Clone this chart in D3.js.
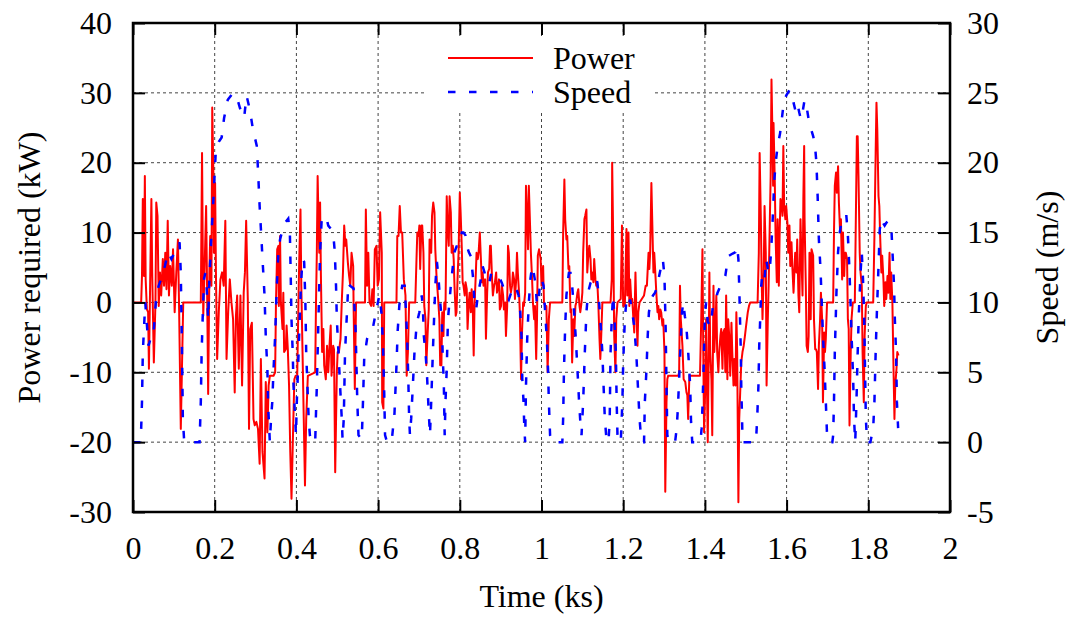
<!DOCTYPE html>
<html>
<head>
<meta charset="utf-8">
<script src="https://cdn.jsdelivr.net/npm/d3@7"></script>
<style>
  body { margin: 0; background: #fff; }
  svg text { font-family: "Liberation Serif", Tinos, "Times New Roman", Times, "DejaVu Serif", serif; fill: #000; }
</style>
</head>
<body>
<svg id="chart" width="1071" height="617"></svg>
<script>
// tick values
const timeTicks = [0, 0.2, 0.4, 0.6, 0.8, 1, 1.2, 1.4, 1.6, 1.8, 2];
const powerTicks = [-30, -20, -10, 0, 10, 20, 30, 40];
const speedTicks = [-5, 0, 5, 10, 15, 20, 25, 30];

// power required: [time (s), kW]
const power = [[0,0],[20,0],[22,3.8],[24,14.8],[27,3.8],[29,18.1],[31,3.3],[34,-1.0],[37,-1.4],[39,-9.5],[42,2.9],[45,14.8],[47,4.3],[51,-8.6],[55,0],[57,14.3],[60,12.4],[63,-0.5],[66,4.3],[69,1.0],[73,6.2],[76,2.4],[79,7.1],[82,1.9],[85,11.7],[88,1.0],[91,5.2],[95,2.4],[98,7.6],[102,-1.4],[106,4.3],[110,9.0],[113,-1.4],[117,-18.1],[120,-9.0],[123,0],[166,0],[169,21.4],[172,-1.9],[175,4.3],[179,13.8],[182,-1.4],[184,-13.1],[187,4.3],[189,9.5],[192,2.4],[194,27.9],[197,17.6],[198,7.1],[201,17.1],[203,4.3],[206,-8.1],[210,-1.4],[214,3.3],[218,4.3],[222,2.4],[226,11.7],[229,-8.1],[233,-1.4],[237,3.3],[241,0],[245,-2.4],[249,-12.9],[252,-1.9],[255,1.0],[259,-9.5],[263,1.0],[267,-11.9],[271,1.4],[274,4.3],[277,11.7],[281,0.5],[284,-18.1],[287,-3.8],[291,-2.9],[295,-16.7],[298,-17.6],[302,-17.1],[306,-18.1],[310,-23.1],[313,-8.1],[317,-21.4],[322,-25.2],[325,-11.4],[329,-18.6],[332,-11.9],[335,-10.5],[344,-10.5],[348,-10.0],[350,0],[353,7.6],[356,8.1],[357,-0.5],[360,9.5],[362,0],[366,-3.8],[368,1.4],[370,-7.1],[374,-6.7],[376,-3.3],[379,-6.7],[382,-11.9],[385,-21.4],[388,-28.1],[392,-18.1],[395,-11.0],[398,-10.5],[402,-10.5],[405,0],[407,6.2],[410,13.3],[412,2.4],[415,-7.1],[418,-16.7],[421,-26.2],[424,-16.7],[428,-10.5],[446,-10.0],[448,0],[450,7.1],[452,18.1],[454,11.9],[456,7.1],[458,14.3],[460,3.8],[463,-7.1],[466,-3.8],[468,-9.0],[472,-11.0],[475,-6.2],[478,-10.0],[481,-6.2],[484,-3.3],[486,-10.5],[490,-6.2],[492,-6.7],[495,-24.3],[499,-10.0],[501,-7.1],[504,-7.1],[508,-5.2],[511,0],[514,4.3],[517,11.0],[520,8.1],[522,9.0],[526,5.7],[529,3.8],[532,2.4],[535,7.1],[539,5.2],[540,-0.5],[543,-12.4],[546,0],[568,0],[570,13.3],[573,2.4],[576,7.1],[579,0],[583,-0.5],[586,1.9],[589,-0.5],[592,7.6],[596,8.1],[599,2.4],[602,3.3],[605,12.9],[609,7.1],[610,-14.3],[613,-15.2],[615,0],[645,0],[647,9.5],[650,9.5],[653,13.8],[656,10.0],[659,10.0],[663,3.3],[667,1.0],[670,-10.5],[673,-7.1],[676,0],[691,0],[694,6.2],[696,10.0],[699,9.5],[701,11.0],[703,4.8],[706,11.0],[708,11.0],[711,7.1],[713,-0.5],[716,-2.4],[718,-9.0],[721,-4.8],[724,-1.0],[726,9.0],[730,7.1],[732,12.4],[735,14.3],[738,12.9],[740,7.6],[743,3.8],[747,0.5],[750,-2.4],[752,-9.0],[755,-9.0],[757,-1.4],[760,-4.8],[762,0],[765,-1.0],[768,15.2],[770,11.0],[773,8.1],[775,15.2],[778,12.9],[780,7.1],[783,8.1],[785,6.2],[787,2.4],[790,-1.9],[792,-1.4],[795,4.3],[797,7.1],[800,15.7],[802,12.9],[805,7.6],[807,2.9],[809,2.4],[812,1.0],[814,2.9],[817,1.9],[819,-3.8],[822,0],[824,1.4],[827,-1.4],[829,1.9],[832,-1.4],[834,-7.6],[836,-0.5],[839,3.8],[841,7.1],[844,6.2],[846,7.1],[849,10.0],[851,7.1],[854,2.9],[856,4.3],[858,2.4],[862,3.3],[864,-5.2],[867,1.4],[869,4.3],[872,4.8],[874,8.1],[876,8.1],[879,3.3],[881,1.0],[884,2.4],[886,2.9],[889,4.3],[891,1.4],[894,2.4],[896,3.3],[898,-1.0],[901,-0.5],[903,2.4],[906,1.0],[908,-1.0],[911,0],[913,-4.8],[916,-0.5],[918,8.1],[920,7.1],[923,2.4],[925,1.4],[928,2.4],[930,4.3],[933,3.3],[935,0.5],[938,3.3],[940,7.1],[942,4.3],[945,1.4],[947,-1.4],[950,-11.0],[952,-4.8],[955,0],[957,-0.5],[960,1.4],[962,16.7],[965,11.9],[967,7.6],[969,16.7],[972,11.0],[974,7.1],[977,3.3],[979,0],[982,-2.4],[984,-0.5],[987,-8.1],[989,-2.4],[991,6.7],[994,7.6],[998,6.2],[1000,2.4],[1004,5.2],[1006,0],[1009,-0.5],[1012,-0.5],[1015,-10.0],[1018,-2.4],[1021,0],[1051,0],[1053,10.0],[1056,17.6],[1058,11.9],[1061,9.0],[1063,9.5],[1066,4.8],[1068,5.2],[1071,-1.4],[1073,-1.0],[1075,-8.6],[1078,-2.4],[1080,-4.8],[1083,-0.5],[1085,0],[1088,1.4],[1090,1.9],[1093,-0.5],[1095,-1.4],[1098,0],[1100,1.4],[1102,7.1],[1105,11.9],[1107,12.4],[1110,13.3],[1112,4.3],[1115,7.1],[1117,8.1],[1120,6.2],[1122,3.3],[1124,4.3],[1127,2.9],[1129,6.2],[1132,3.3],[1134,2.4],[1137,2.4],[1139,0],[1142,-5.2],[1144,-8.1],[1146,-5.2],[1149,0],[1169,0],[1172,3.3],[1173,20.0],[1176,7.1],[1178,-4.8],[1181,-10.0],[1183,-2.4],[1186,0],[1194,0.5],[1197,11.0],[1200,-0.5],[1202,0.5],[1204,-0.5],[1208,10.5],[1210,1.0],[1213,10.0],[1215,-0.5],[1217,3.3],[1220,0],[1222,0.5],[1225,-2.4],[1227,-4.3],[1230,4.3],[1232,-0.5],[1235,-6.2],[1237,-1.4],[1240,0],[1251,1.0],[1255,2.4],[1258,2.4],[1262,7.1],[1264,4.8],[1266,7.1],[1269,17.1],[1271,11.9],[1274,4.3],[1276,7.1],[1279,3.8],[1281,1.4],[1284,-1.4],[1286,-0.5],[1288,-2.4],[1291,-1.0],[1293,-1.4],[1296,-3.3],[1298,-2.4],[1301,-7.1],[1303,-27.1],[1306,-14.3],[1308,-11.0],[1310,-10.5],[1335,-10.5],[1337,-10.0],[1339,2.4],[1341,-2.4],[1345,-6.2],[1348,-11.0],[1352,-11.4],[1355,-12.9],[1357,-13.3],[1359,-16.7],[1362,-10.5],[1388,-10.5],[1391,-2.4],[1394,7.6],[1396,-7.1],[1398,-18.6],[1401,-11.9],[1403,-2.4],[1405,-11.9],[1407,-20.0],[1409,-9.5],[1411,4.3],[1413,-7.1],[1416,-11.0],[1418,-19.0],[1421,2.4],[1423,-7.1],[1426,-3.3],[1428,1.0],[1430,-7.1],[1433,-10.0],[1435,-7.1],[1438,-4.8],[1440,-3.8],[1443,-9.5],[1445,-4.3],[1448,-3.8],[1450,-10.0],[1452,1.0],[1455,-11.0],[1457,-2.4],[1460,-5.2],[1462,-10.5],[1465,-2.9],[1467,-7.1],[1470,-11.9],[1472,-8.1],[1475,-11.9],[1477,-1.4],[1479,-7.1],[1482,-28.6],[1484,-16.7],[1487,-11.9],[1489,-8.6],[1492,-7.1],[1495,-6.2],[1498,-4.8],[1501,-3.3],[1505,-1.4],[1508,-0.5],[1511,0],[1529,0],[1532,7.1],[1534,21.4],[1537,11.9],[1539,3.3],[1541,-2.4],[1544,4.3],[1546,13.8],[1549,7.1],[1551,-11.9],[1554,-2.4],[1556,2.4],[1559,11.9],[1561,18.1],[1563,31.9],[1565,25.2],[1567,16.7],[1568,25.7],[1571,17.6],[1573,9.5],[1576,2.9],[1578,11.9],[1581,2.4],[1583,10.0],[1585,14.8],[1588,13.8],[1590,12.4],[1592,22.4],[1594,13.8],[1597,11.9],[1599,13.8],[1602,11.4],[1604,7.1],[1607,11.0],[1609,5.2],[1612,8.6],[1614,5.2],[1617,1.4],[1619,4.3],[1621,7.1],[1624,4.3],[1626,9.0],[1629,1.0],[1631,-1.4],[1634,11.9],[1636,7.1],[1639,1.0],[1641,14.8],[1643,22.4],[1644,11.9],[1647,2.4],[1649,-6.2],[1652,-7.1],[1654,-4.8],[1656,7.1],[1659,-2.4],[1661,7.6],[1665,6.7],[1667,-2.4],[1670,-6.7],[1672,-6.7],[1674,-7.1],[1677,-12.4],[1679,-6.2],[1682,-2.4],[1684,1.4],[1687,-2.4],[1689,-14.3],[1692,-4.3],[1694,-7.1],[1696,-5.2],[1699,0],[1714,0],[1716,10.0],[1718,16.7],[1721,18.6],[1723,15.7],[1726,19.5],[1728,14.3],[1731,10.0],[1733,11.9],[1736,3.3],[1738,10.0],[1741,3.8],[1743,7.1],[1745,7.1],[1748,6.2],[1750,-2.4],[1752,-3.8],[1754,-17.6],[1757,-7.1],[1759,-2.4],[1762,0],[1767,0],[1769,9.5],[1772,23.8],[1774,23.8],[1776,18.1],[1779,7.1],[1781,4.3],[1784,2.4],[1786,-7.1],[1789,-14.3],[1791,-4.8],[1794,-0.5],[1796,0],[1812,0],[1815,9.5],[1818,21.4],[1820,28.6],[1822,24.8],[1825,15.2],[1827,13.8],[1829,9.5],[1832,4.3],[1834,6.7],[1837,3.3],[1839,-0.5],[1842,2.9],[1844,0.5],[1847,3.8],[1849,1.4],[1852,7.1],[1854,0.5],[1856,4.3],[1859,0],[1861,-7.1],[1864,-16.7],[1866,-11.9],[1869,-9.5],[1871,-7.1],[1874,-7.6]];

// vehicle speed: [time (s), m/s]
const speed = [[0,0],[19,0],[22,2.9],[24,6.4],[30,10.0],[33,8.8],[38,6.9],[43,7.4],[49,7.4],[53,8.8],[57,10.5],[63,11.2],[69,11.7],[78,12.6],[86,13.6],[94,13.1],[102,13.6],[109,14.0],[114,14.3],[117,12.1],[120,6.4],[122,1.7],[125,0.2],[126,0],[163,0],[166,2.9],[168,6.4],[171,9.3],[174,11.7],[177,12.1],[180,11.2],[184,8.8],[187,11.7],[192,14.8],[197,17.5],[203,21.0],[210,21.5],[217,21.8],[223,23.2],[232,24.5],[245,25.0],[255,24.6],[262,23.9],[272,23.2],[278,24.8],[286,23.8],[293,22.5],[303,21.2],[306,19.5],[310,16.9],[314,14.8],[318,12.6],[322,10.5],[325,7.6],[329,5.2],[331,2.5],[335,0],[338,1.7],[341,2.9],[344,5.2],[348,7.6],[352,11.2],[356,13.6],[360,14.5],[366,15.2],[372,15.7],[380,16.0],[384,15.0],[386,12.1],[388,8.8],[391,6.4],[393,4.0],[397,1.7],[399,0.5],[401,2.9],[404,5.2],[407,7.9],[411,11.2],[415,13.1],[419,12.9],[422,10.0],[424,6.4],[427,4.0],[430,1.7],[433,0.5],[437,0],[446,0],[448,2.1],[450,4.0],[454,8.8],[458,13.6],[462,16.0],[466,16.2],[474,16.0],[478,15.5],[486,15.2],[490,15.0],[494,13.6],[497,11.2],[499,8.8],[503,6.4],[507,4.0],[511,1.7],[513,0.2],[516,1.7],[519,6.4],[521,7.6],[525,10.0],[527,11.4],[531,11.2],[540,11.0],[545,8.0],[549,3.0],[552,0.5],[560,0.2],[563,2.9],[566,6.0],[573,7.4],[580,7.9],[588,8.3],[596,9.5],[603,10.5],[608,9.3],[612,7.0],[615,3.5],[617,0.5],[622,0],[633,0],[640,2.0],[645,5.5],[648,8.0],[652,9.8],[659,11.2],[665,11.2],[668,9.5],[671,7.6],[674,4.5],[676,1.7],[678,0.5],[681,1.7],[685,4.0],[689,6.4],[693,7.9],[697,8.8],[701,9.3],[704,9.8],[707,10.5],[710,9.3],[712,7.6],[716,6.4],[719,5.2],[721,4.0],[724,2.1],[727,0.5],[730,2.9],[734,6.4],[737,8.8],[740,11.2],[744,12.9],[748,11.7],[752,10.0],[756,8.8],[758,6.4],[761,4.0],[763,0.5],[765,2.9],[768,5.2],[771,8.8],[774,9.8],[778,11.2],[783,12.6],[787,13.6],[792,14.0],[797,14.0],[802,14.5],[805,15.0],[809,15.0],[814,14.8],[818,14.0],[822,13.6],[827,13.3],[832,11.9],[836,10.0],[840,9.5],[845,10.7],[850,11.4],[856,12.6],[861,12.1],[867,11.4],[872,11.4],[877,12.1],[883,12.1],[889,11.9],[895,11.9],[903,11.4],[911,10.7],[920,10.2],[928,10.9],[936,11.2],[944,10.5],[948,9.3],[951,7.6],[953,4.5],[956,2.9],[958,1.0],[960,0],[962,4.0],[965,7.4],[969,10.0],[973,11.7],[977,12.6],[981,12.1],[985,11.4],[989,9.8],[993,10.0],[996,11.4],[1000,11.7],[1005,11.2],[1009,9.3],[1013,7.4],[1016,5.2],[1018,2.9],[1021,0.5],[1024,0],[1051,0],[1053,1.7],[1055,5.2],[1058,8.3],[1061,10.5],[1064,11.4],[1067,12.1],[1071,12.1],[1075,11.2],[1080,9.3],[1084,7.4],[1088,5.2],[1092,2.9],[1096,1.0],[1098,0.5],[1102,2.9],[1106,6.4],[1110,9.3],[1114,10.7],[1120,11.4],[1126,11.7],[1133,11.9],[1137,11.4],[1141,10.0],[1145,8.3],[1149,6.4],[1152,4.0],[1155,1.7],[1159,0.2],[1164,0],[1167,1.7],[1169,6.4],[1172,8.8],[1175,10.5],[1178,9.3],[1182,6.4],[1184,2.9],[1186,0.5],[1190,0],[1194,0],[1198,2.9],[1200,5.7],[1204,8.8],[1208,10.2],[1213,9.8],[1217,10.2],[1222,9.3],[1227,8.3],[1232,6.4],[1236,4.0],[1240,1.7],[1244,0.2],[1247,0],[1251,0],[1253,2.9],[1257,5.2],[1260,7.6],[1263,9.3],[1268,10.2],[1273,10.5],[1278,10.7],[1284,11.2],[1288,11.9],[1293,12.6],[1297,13.1],[1301,11.9],[1304,8.0],[1306,4.0],[1308,0.5],[1310,0],[1327,0],[1331,1.0],[1334,2.5],[1339,6.0],[1344,9.3],[1347,10.0],[1351,9.0],[1354,8.5],[1359,6.5],[1364,4.0],[1366,1.5],[1369,0],[1389,0],[1392,1.0],[1394,2.5],[1397,5.5],[1400,9.0],[1403,10.0],[1407,8.6],[1414,8.3],[1419,9.6],[1425,10.0],[1431,10.7],[1440,11.3],[1450,11.9],[1457,13.3],[1468,13.5],[1475,13.6],[1479,14.0],[1482,13.1],[1484,11.2],[1486,8.8],[1488,6.4],[1489,4.0],[1491,1.7],[1492,0],[1525,0],[1528,1.7],[1531,4.0],[1533,6.9],[1536,9.3],[1538,11.2],[1541,12.1],[1546,11.7],[1550,13.1],[1554,12.4],[1558,12.1],[1562,13.6],[1566,16.0],[1570,18.8],[1574,20.2],[1578,21.2],[1584,22.1],[1589,23.3],[1593,24.3],[1599,24.8],[1607,25.2],[1613,25.0],[1617,24.3],[1621,23.8],[1626,24.3],[1631,23.6],[1635,23.1],[1639,23.6],[1644,24.5],[1649,24.0],[1654,23.1],[1660,22.4],[1665,21.9],[1669,21.4],[1673,20.0],[1676,17.6],[1679,14.5],[1683,12.4],[1686,10.0],[1689,7.6],[1693,5.2],[1696,2.9],[1699,0.5],[1702,0],[1712,0],[1714,0.5],[1716,2.9],[1718,6.4],[1722,10.7],[1726,13.6],[1730,15.0],[1734,15.7],[1738,16.0],[1746,16.3],[1750,14.8],[1753,12.9],[1756,10.5],[1759,7.6],[1763,4.5],[1765,1.7],[1768,0],[1771,2.9],[1774,6.4],[1777,9.3],[1781,12.1],[1784,13.6],[1787,11.7],[1790,8.8],[1792,5.2],[1794,1.7],[1797,0],[1805,0],[1812,1.0],[1815,2.9],[1818,6.4],[1821,9.3],[1825,12.6],[1828,15.2],[1832,16.0],[1836,15.7],[1840,15.5],[1844,15.7],[1848,15.8],[1852,15.8],[1857,15.0],[1860,13.1],[1863,11.2],[1865,8.8],[1868,6.4],[1870,2.9],[1873,1.0]];

const svg = d3.select("#chart");
const plotLeft = 133, plotRight = 950, plotTop = 23, plotBottom = 512;
const serif = "'Liberation Serif', Tinos, 'Times New Roman', Times, 'DejaVu Serif', serif";

// scales
const x = d3.scaleLinear().domain([0, 2]).range([plotLeft, plotRight]);
const yP = d3.scaleLinear().domain([-30, 40]).range([plotBottom, plotTop]);
const yS = d3.scaleLinear().domain([-5, 30]).range([plotBottom, plotTop]);

svg.append("rect").attr("width", 1071).attr("height", 617).attr("fill", "#fff");

// grid
const grid = svg.append("g")
    .attr("stroke", "#444")
    .attr("stroke-width", 1)
    .attr("stroke-dasharray", "3,3");
grid.selectAll(".gx")
    .data(timeTicks.slice(1, -1))
    .join("line")
    .attr("x1", d => x(d)).attr("x2", d => x(d))
    .attr("y1", plotTop).attr("y2", plotBottom);
grid.selectAll(".gy")
    .data(powerTicks.slice(1, -1))
    .join("line")
    .attr("x1", plotLeft).attr("x2", plotRight)
    .attr("y1", d => yP(d)).attr("y2", d => yP(d));

// key background
svg.append("rect")
    .attr("x", 425).attr("y", 36)
    .attr("width", 229).attr("height", 77)
    .attr("fill", "#fff");

// lines
const linePower = d3.line().x(d => x(d[0] / 1000)).y(d => yP(d[1]));
const lineSpeed = d3.line().x(d => x(d[0] / 1000)).y(d => yS(d[1]));

svg.append("path")
    .datum(power)
    .attr("fill", "none")
    .attr("stroke", "#ff0000")
    .attr("stroke-width", 2)
    .attr("stroke-linejoin", "round")
    .attr("d", linePower);

svg.append("path")
    .datum(speed)
    .attr("fill", "none")
    .attr("stroke", "#0000ff")
    .attr("stroke-width", 2.5)
    .attr("stroke-dasharray", "7.5,13.5")
    .attr("d", lineSpeed);

// axes with inward ticks
const fmt = d => String(+d.toFixed(1));

const axB = svg.append("g")
    .attr("transform", `translate(0,${plotBottom})`)
    .call(d3.axisBottom(x).tickValues(timeTicks).tickSize(-12).tickPadding(24).tickFormat(fmt));
const axT = svg.append("g")
    .attr("transform", `translate(0,${plotTop})`)
    .call(d3.axisTop(x).tickValues(timeTicks).tickSize(-12).tickFormat(""));
const axL = svg.append("g")
    .attr("transform", `translate(${plotLeft},0)`)
    .call(d3.axisLeft(yP).tickValues(powerTicks).tickSize(-12).tickPadding(21).tickFormat(d => String(d)));
const axR = svg.append("g")
    .attr("transform", `translate(${plotRight},0)`)
    .call(d3.axisRight(yS).tickValues(speedTicks).tickSize(-12).tickPadding(17).tickFormat(d => String(d)));

[axB, axT, axL, axR].forEach(g => {
    g.attr("font-family", serif).attr("font-size", 32);
    g.select(".domain").remove();
    g.selectAll(".tick line").attr("stroke", "#000").attr("stroke-width", 2);
    g.selectAll(".tick text").attr("fill", "#000");
});

// frame
svg.append("rect")
    .attr("x", plotLeft).attr("y", plotTop)
    .attr("width", plotRight - plotLeft).attr("height", plotBottom - plotTop)
    .attr("fill", "none")
    .attr("stroke", "#000")
    .attr("stroke-width", 2.5);

// axis titles
const label = (sel) => sel.attr("font-family", serif).attr("font-size", 32);

svg.append("text")
    .call(label)
    .attr("x", (plotLeft + plotRight) / 2).attr("y", 607)
    .attr("text-anchor", "middle")
    .text("Time (ks)");

svg.append("text")
    .call(label)
    .attr("transform", `translate(40,${(plotTop + plotBottom) / 2}) rotate(-90)`)
    .attr("text-anchor", "middle")
    .text("Power required (kW)");

svg.append("text")
    .call(label)
    .attr("transform", `translate(1058,${(plotTop + plotBottom) / 2}) rotate(-90)`)
    .attr("text-anchor", "middle")
    .text("Speed (m/s)");

// key
svg.append("line")
    .attr("x1", 448).attr("x2", 533).attr("y1", 58).attr("y2", 58)
    .attr("stroke", "#ff0000").attr("stroke-width", 2);
svg.append("line")
    .attr("x1", 448).attr("x2", 533).attr("y1", 92).attr("y2", 92)
    .attr("stroke", "#0000ff").attr("stroke-width", 2.5)
    .attr("stroke-dasharray", "7.5,13.5");
svg.append("text").call(label).attr("x", 553).attr("y", 69).text("Power");
svg.append("text").call(label).attr("x", 553).attr("y", 103).text("Speed");
</script>
</body>
</html>
